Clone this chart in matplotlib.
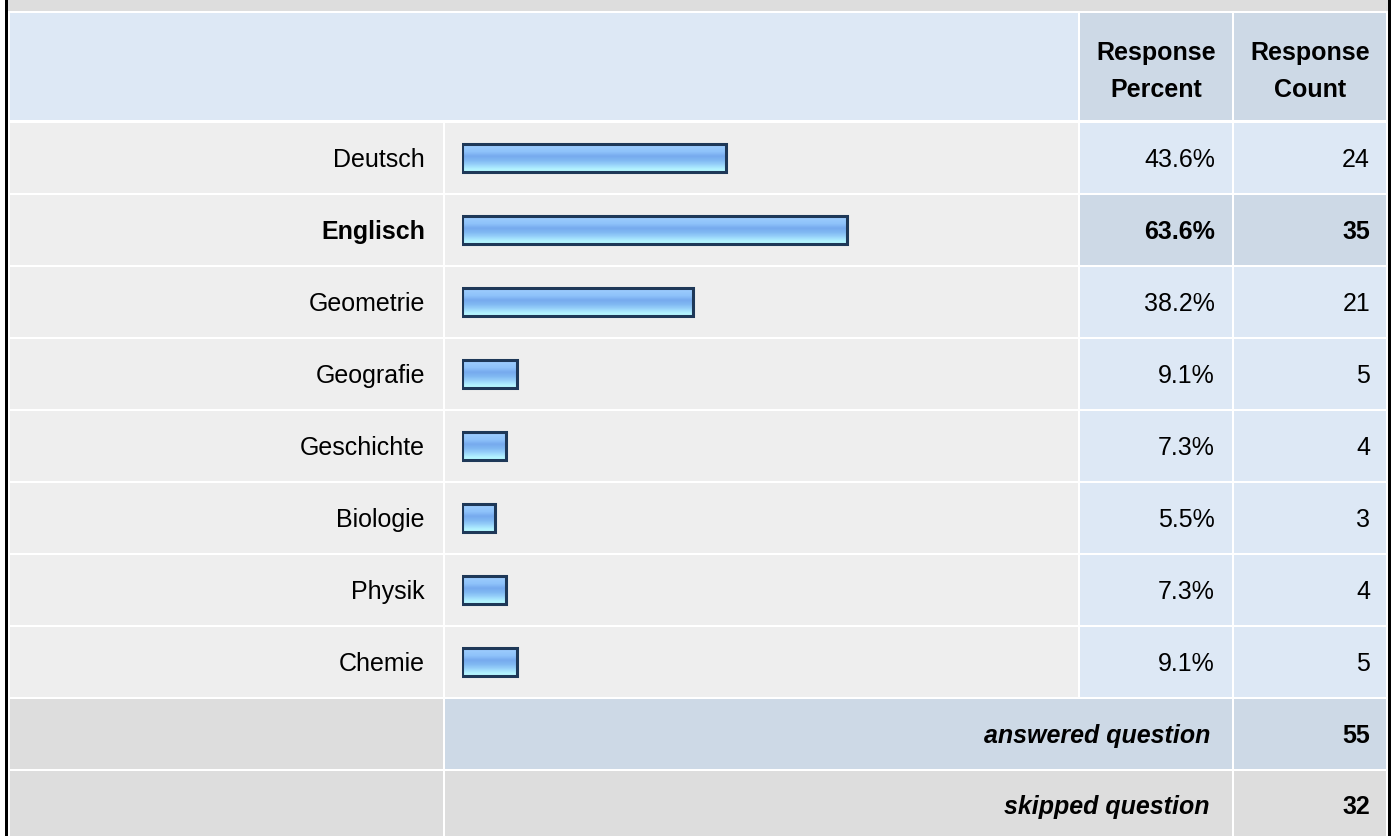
import numpy as np
import matplotlib
matplotlib.use("Agg")
import matplotlib.pyplot as plt
from matplotlib.colors import LinearSegmentedColormap
from matplotlib.patches import Rectangle

# survey answers
subjects = ["Deutsch", "Englisch", "Geometrie", "Geografie",
            "Geschichte", "Biologie", "Physik", "Chemie"]
percents = [43.6, 63.6, 38.2, 9.1, 7.3, 5.5, 7.3, 9.1]
counts = [24, 35, 21, 5, 4, 3, 4, 5]
answered = 55
skipped = 32
top_row = 1  # Englisch is highlighted

W, H = 1394, 836
plt.rcParams['font.family'] = ['Liberation Sans', 'DejaVu Sans']
FS = 18

fig = plt.figure(figsize=(W / 100, H / 100), dpi=100)
fig.patch.set_facecolor("white")

# full-figure axes in pixel units for the table grid and text
bg = fig.add_axes([0, 0, 1, 1])
bg.set_xlim(0, W)
bg.set_ylim(H, 0)
bg.axis("off")

def cell(x0, x1, y0, y1, color):
    bg.add_patch(Rectangle((x0, y0), x1 - x0, y1 - y0, facecolor=color,
                           edgecolor="none", zorder=1))

GRAY = "#dddddd"
LIGHT = "#eeeeee"
BLUE = "#dde8f5"
DBLUE = "#cdd9e6"

# column edges
c_lab = (10, 443)
c_bar = (445, 1078)
c_pct = (1080, 1232)
c_cnt = (1234, 1386)

cell(8, 1388, 0, 11, GRAY)
cell(10, 1078, 13, 120, BLUE)
cell(*c_pct, 13, 120, DBLUE)
cell(*c_cnt, 13, 120, DBLUE)
for hx in [(c_pct[0] + c_pct[1]) / 2, (c_cnt[0] + c_cnt[1]) / 2]:
    bg.text(hx, 60, "Response", ha="center", va="baseline", fontsize=FS,
            fontweight="bold", zorder=3)
bg.text((c_pct[0] + c_pct[1]) / 2, 97, "Percent", ha="center", va="baseline",
        fontsize=FS, fontweight="bold", zorder=3)
bg.text((c_cnt[0] + c_cnt[1]) / 2, 97, "Count", ha="center", va="baseline",
        fontsize=FS, fontweight="bold", zorder=3)

ROW0, PITCH, RH = 123, 72, 70
for i, (name, p, c) in enumerate(zip(subjects, percents, counts)):
    y0 = ROW0 + PITCH * i
    hi = i == top_row
    cell(*c_lab, y0, y0 + RH, LIGHT)
    cell(*c_bar, y0, y0 + RH, LIGHT)
    cell(*c_pct, y0, y0 + RH, DBLUE if hi else BLUE)
    cell(*c_cnt, y0, y0 + RH, DBLUE if hi else BLUE)
    w = "bold" if hi else "normal"
    bg.text(425, y0 + 44, name, ha="right", va="baseline", fontsize=FS,
            fontweight=w, zorder=3)
    bg.text(1215, y0 + 44, f"{p:.1f}%", ha="right", va="baseline",
            fontsize=FS, fontweight=w, zorder=3)
    bg.text(1370, y0 + 44, str(c), ha="right", va="baseline", fontsize=FS,
            fontweight=w, zorder=3)

# footer rows
y0 = ROW0 + PITCH * len(subjects)
cell(*c_lab, y0, y0 + RH, GRAY)
cell(c_bar[0], c_pct[1], y0, y0 + RH, DBLUE)
cell(*c_cnt, y0, y0 + RH, DBLUE)
bg.text(1210, y0 + 44, "answered question", ha="right", va="baseline",
        fontsize=FS, fontweight="bold", fontstyle="italic", zorder=3)
bg.text(1370, y0 + 44, str(answered), ha="right", va="baseline",
        fontsize=FS, fontweight="bold", zorder=3)
y0 += PITCH
cell(*c_lab, y0, H, GRAY)
cell(c_bar[0], c_pct[1], y0, H, GRAY)
cell(*c_cnt, y0, H, GRAY)
bg.text(1210, y0 + 43, "skipped question", ha="right", va="baseline",
        fontsize=FS, fontweight="bold", fontstyle="italic", zorder=3)
bg.text(1370, y0 + 43, str(skipped), ha="right", va="baseline",
        fontsize=FS, fontweight="bold", zorder=3)

# black side borders
cell(5, 8, 0, H, "black")
cell(1388, 1391, 0, H, "black")

# bar axes: 0..100 % spans 606 px starting at x=462
n = len(subjects)
top_px, bot_px = 122, 122 + PITCH * n
ax = fig.add_axes([462 / W, 1 - bot_px / H, 606 / W, (bot_px - top_px) / H])
ax.set_xlim(0, 100)
ax.set_ylim(n - 0.5, -0.5)
ax.axis("off")
ax.patch.set_alpha(0)

grad = LinearSegmentedColormap.from_list("bar", [
    (0.0, "#a2d0ff"), (0.3, "#8ec2fa"), (0.45, "#76aaee"),
    (0.6, "#80b8f2"), (0.75, "#98d2fa"), (0.9, "#b2f2ff"), (1.0, "#b8fbff")])
g = np.linspace(0, 1, 64).reshape(-1, 1)
bh = 0.39
for i, p in enumerate(percents):
    ax.imshow(g, cmap=grad, aspect="auto", interpolation="bilinear",
              extent=(0, p, i + bh / 2, i - bh / 2), zorder=2)
ax.barh(range(n), percents, height=bh, facecolor="none",
        edgecolor="#1e3858", linewidth=2.2, zorder=3)
ax.set_xlim(0, 100)
ax.set_ylim(n - 0.5, -0.5)

fig.savefig("out.png", dpi=100, facecolor="white")
